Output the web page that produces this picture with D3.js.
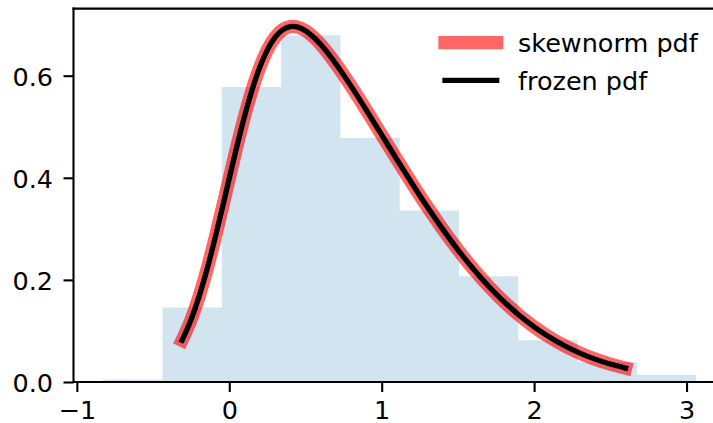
<!DOCTYPE html>
<html>
<head>
<meta charset="utf-8">
<script src="https://cdn.jsdelivr.net/npm/d3@7"></script>
<style>
  html, body { margin: 0; padding: 0; background: #fff; }
  svg { display: block; }
  text { font-family: "DejaVu Sans", sans-serif; }
</style>
</head>
<body>
<svg id="chart" width="713" height="423"></svg>
<script>
// ---- data ----
const binEdges = [-0.827, -0.438, -0.049, 0.340, 0.729, 1.118, 1.507, 1.896, 2.285, 2.674, 3.062];
const binDensity = [0.0047, 0.1457, 0.5778, 0.679, 0.478, 0.336, 0.207, 0.0818, 0.0392, 0.0137];
const pdfX = [-0.31, -0.25, -0.2, -0.15, -0.1, -0.05, 0, 0.05, 0.1, 0.15, 0.2, 0.25, 0.3, 0.35, 0.4, 0.42, 0.45, 0.5, 0.55, 0.6, 0.7, 0.8, 0.9, 1.0, 1.1, 1.2, 1.3, 1.4, 1.5, 1.6, 1.7, 1.8, 1.9, 2.0, 2.1, 2.2, 2.3, 2.4, 2.5, 2.6];
const pdfY = [0.0817, 0.1227, 0.1657, 0.2164, 0.2736, 0.3353, 0.3989, 0.4616, 0.5203, 0.5726, 0.6164, 0.6506, 0.6750, 0.6899, 0.6962, 0.6966, 0.6951, 0.6881, 0.6764, 0.6610, 0.6229, 0.5790, 0.5321, 0.4839, 0.4357, 0.3884, 0.3427, 0.2995, 0.2590, 0.2218, 0.1881, 0.1579, 0.1312, 0.1080, 0.0880, 0.0710, 0.0567, 0.0448, 0.0351, 0.0272];
const xTicks = [-1, 0, 1, 2, 3];
const yTicks = [0.0, 0.2, 0.4, 0.6];
const legendLabels = ["skewnorm pdf", "frozen pdf"];

// ---- layout ----
const svg = d3.select("#chart");
const pL = 73.5, pR = 725.7, pT = 8.6, pB = 382;
const x = d3.scaleLinear().domain([-1.022, 3.257]).range([pL, pR]);
const y = d3.scaleLinear().domain([0, 0.7314]).range([pB, pT]);
const fs = 25.5;

// histogram (stepfilled, drawn beneath the lines)
const histPts = [[binEdges[0], 0]];
binDensity.forEach((d, i) => { histPts.push([binEdges[i], d]); histPts.push([binEdges[i + 1], d]); });
histPts.push([binEdges[binEdges.length - 1], 0]);
svg.append("path")
  .attr("d", d3.line().x(d => x(d[0])).y(d => y(d[1]))(histPts) + "Z")
  .attr("fill", "#1f77b4").attr("fill-opacity", 0.2);

// curves
const pts = pdfX.map((v, i) => [v, pdfY[i]]);
const line = d3.line().x(d => x(d[0])).y(d => y(d[1])).curve(d3.curveMonotoneX);

svg.append("path").attr("d", line(pts))
  .attr("fill", "none").attr("stroke", "rgb(255,0,0)").attr("stroke-opacity", 0.6)
  .attr("stroke-width", 13.3).attr("stroke-linecap", "square").attr("stroke-linejoin", "round");
svg.append("path").attr("d", line(pts))
  .attr("fill", "none").attr("stroke", "#000")
  .attr("stroke-width", 5.3).attr("stroke-linecap", "square").attr("stroke-linejoin", "round");

// axes
const xAxis = svg.append("g").attr("transform", `translate(0,${pB})`)
  .call(d3.axisBottom(x).tickValues(xTicks).tickFormat(d3.format("d")).tickSize(10).tickSizeOuter(0).tickPadding(8.5));
const yAxis = svg.append("g").attr("transform", `translate(${pL},0)`)
  .call(d3.axisLeft(y).tickValues(yTicks).tickFormat(d3.format(".1f")).tickSize(10).tickSizeOuter(0).tickPadding(10.5));
[xAxis, yAxis].forEach(g => {
  g.select(".domain").remove();
  g.selectAll(".tick line").attr("stroke", "#000").attr("stroke-width", 2.1);
  g.selectAll(".tick text").attr("font-size", fs).attr("fill", "#000").attr("font-family", "DejaVu Sans");
});
yAxis.selectAll(".tick text").attr("dy", "0.38em");

// spines
const spine = (x1, y1, x2, y2) => svg.append("line").attr("x1", x1).attr("y1", y1).attr("x2", x2).attr("y2", y2)
  .attr("stroke", "#000").attr("stroke-width", 2.1).attr("stroke-linecap", "square");
spine(pL, pT, pL, pB);
spine(pL, pB, pR, pB);
spine(pL, pT, pR, pT);
spine(pR, pT, pR, pB);

// legend (no frame)
const leg = svg.append("g");
const legY = [42.7, 80.3];
const legStyles = [
  { stroke: "rgb(255,0,0)", op: 0.6, w: 13.3 },
  { stroke: "#000", op: 1, w: 5.3 }
];
legendLabels.forEach((lab, i) => {
  leg.append("line").attr("x1", 445).attr("x2", 496.7).attr("y1", legY[i]).attr("y2", legY[i])
    .attr("stroke", legStyles[i].stroke).attr("stroke-opacity", legStyles[i].op)
    .attr("stroke-width", legStyles[i].w).attr("stroke-linecap", "square");
  leg.append("text").attr("x", 518).attr("y", legY[i] + 9.5)
    .attr("font-size", fs).attr("fill", "#000").text(lab);
});
</script>
</body>
</html>
